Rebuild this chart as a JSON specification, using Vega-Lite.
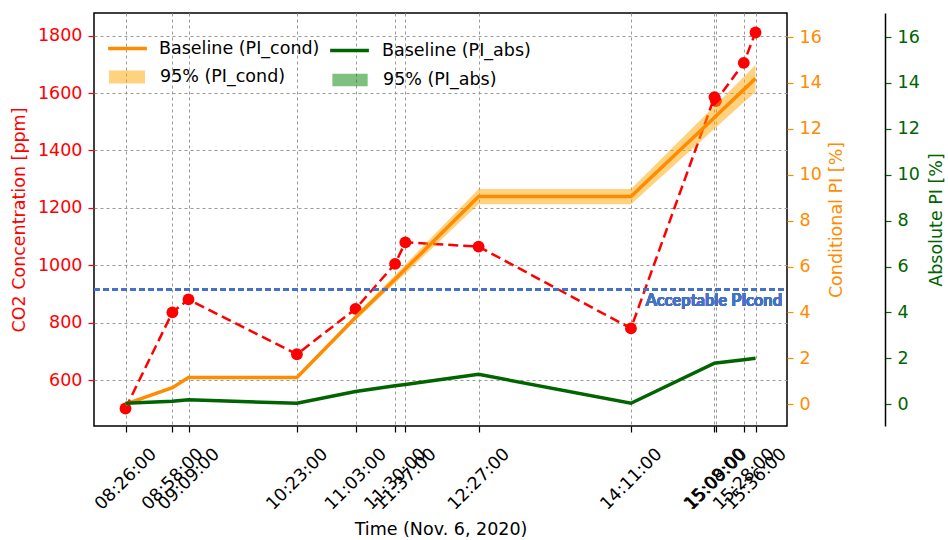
{
  "$schema": "https://vega.github.io/schema/vega-lite/v6.json",
  "width": 693,
  "height": 413,
  "autosize": {"type": "none"},
  "padding": {"left": 94, "top": 13, "right": 161, "bottom": 114},
  "config": {
    "font": "DejaVu Sans",
    "view": {"stroke": "#000000", "strokeWidth": 1.5},
    "axis": {
      "labelFont": "DejaVu Sans", "labelFontSize": 17.5,
      "titleFont": "DejaVu Sans", "titleFontSize": 17.5, "titleFontWeight": "normal",
      "tickSize": 6, "tickWidth": 1.2, "labelPadding": 6,
      "gridColor": "#9a9a9a", "gridDash": [3, 3], "gridWidth": 1, "gridOpacity": 1
    },
    "legend": {
      "labelFont": "DejaVu Sans", "labelFontSize": 17.5, "labelColor": "#000000",
      "padding": 0, "orient": "none", "labelLimit": 400
    }
  },
  "data": {
    "values": [
      {"t": "2020-11-06T08:26:00", "co2": 501, "cond": 0.0, "clo": -0.02, "chi": 0.02, "ab": 0.04, "alo": 0.0, "ahi": 0.08},
      {"t": "2020-11-06T08:58:00", "co2": 836, "cond": 0.72, "clo": 0.67, "chi": 0.77, "ab": 0.13, "alo": 0.09, "ahi": 0.17},
      {"t": "2020-11-06T09:09:00", "co2": 881, "cond": 1.16, "clo": 1.1, "chi": 1.22, "ab": 0.19, "alo": 0.15, "ahi": 0.23},
      {"t": "2020-11-06T10:23:00", "co2": 690, "cond": 1.16, "clo": 1.1, "chi": 1.22, "ab": 0.04, "alo": 0.0, "ahi": 0.08},
      {"t": "2020-11-06T11:03:00", "co2": 848, "cond": 3.78, "clo": 3.66, "chi": 3.9, "ab": 0.55, "alo": 0.51, "ahi": 0.59},
      {"t": "2020-11-06T11:30:00", "co2": 1005, "cond": 5.45, "clo": 5.27, "chi": 5.63, "ab": 0.8, "alo": 0.76, "ahi": 0.84},
      {"t": "2020-11-06T11:37:00", "co2": 1080, "cond": 5.89, "clo": 5.69, "chi": 6.09, "ab": 0.86, "alo": 0.82, "ahi": 0.9},
      {"t": "2020-11-06T12:27:00", "co2": 1065, "cond": 9.05, "clo": 8.72, "chi": 9.38, "ab": 1.3, "alo": 1.26, "ahi": 1.34},
      {"t": "2020-11-06T14:11:00", "co2": 780, "cond": 9.05, "clo": 8.72, "chi": 9.38, "ab": 0.04, "alo": 0.0, "ahi": 0.08},
      {"t": "2020-11-06T15:08:00", "co2": 1586, "cond": 12.5, "clo": 12.0, "chi": 13.0, "ab": 1.79, "alo": 1.75, "ahi": 1.83},
      {"t": "2020-11-06T15:09:00", "co2": 1572, "cond": 12.56, "clo": 12.06, "chi": 13.06, "ab": 1.8, "alo": 1.76, "ahi": 1.84},
      {"t": "2020-11-06T15:28:00", "co2": 1705, "cond": 13.71, "clo": 13.16, "chi": 14.26, "ab": 1.94, "alo": 1.9, "ahi": 1.98},
      {"t": "2020-11-06T15:36:00", "co2": 1811, "cond": 14.2, "clo": 13.6, "chi": 14.8, "ab": 2.0, "alo": 1.96, "ahi": 2.04}
    ]
  },
  "encoding": {
    "x": {
      "field": "t", "type": "temporal",
      "scale": {"domain": [
        {"year": 2020, "month": 11, "date": 6, "hours": 8, "minutes": 4, "seconds": 30},
        {"year": 2020, "month": 11, "date": 6, "hours": 15, "minutes": 57, "seconds": 30}
      ]},
      "axis": {
        "title": "Time (Nov. 6, 2020)", "titleColor": "#000000", "titlePadding": 8,
        "format": "%H:%M:%S", "labelAngle": 315, "labelAlign": "center", "labelBaseline": "middle",
        "labelPadding": 47, "labelOverlap": false, "labelColor": "#000000", "tickColor": "#000000",
        "labelFontSize": 17.5, "domain": false, "grid": true,
        "values": [
          {"year": 2020, "month": 11, "date": 6, "hours": 8, "minutes": 26},
          {"year": 2020, "month": 11, "date": 6, "hours": 8, "minutes": 58},
          {"year": 2020, "month": 11, "date": 6, "hours": 9, "minutes": 9},
          {"year": 2020, "month": 11, "date": 6, "hours": 10, "minutes": 23},
          {"year": 2020, "month": 11, "date": 6, "hours": 11, "minutes": 3},
          {"year": 2020, "month": 11, "date": 6, "hours": 11, "minutes": 30},
          {"year": 2020, "month": 11, "date": 6, "hours": 11, "minutes": 37},
          {"year": 2020, "month": 11, "date": 6, "hours": 12, "minutes": 27},
          {"year": 2020, "month": 11, "date": 6, "hours": 14, "minutes": 11},
          {"year": 2020, "month": 11, "date": 6, "hours": 15, "minutes": 8},
          {"year": 2020, "month": 11, "date": 6, "hours": 15, "minutes": 9},
          {"year": 2020, "month": 11, "date": 6, "hours": 15, "minutes": 28},
          {"year": 2020, "month": 11, "date": 6, "hours": 15, "minutes": 36}
        ]
      }
    }
  },
  "layer": [
    {
      "mark": {"type": "line", "color": "#ff0000", "strokeWidth": 2.5, "strokeDash": [10, 5]},
      "encoding": {
        "y": {
          "field": "co2", "type": "quantitative",
          "scale": {"domain": [440, 1879], "nice": false, "zero": false},
          "axis": {
            "orient": "left", "title": "CO2 Concentration [ppm]", "titleColor": "#ff0000", "format": "d",
            "labelColor": "#ff0000", "tickColor": "#ff0000", "labelFontSize": 17.5, "domain": false, "grid": true,
            "values": [600, 800, 1000, 1200, 1400, 1600, 1800], "titlePadding": 9
          }
        }
      }
    },
    {
      "mark": {"type": "point", "filled": true, "color": "#ff0000", "opacity": 1, "size": 140},
      "encoding": {
        "y": {"field": "co2", "type": "quantitative", "scale": {"domain": [440, 1879], "nice": false, "zero": false}, "axis": null}
      }
    },
    {
      "mark": {"type": "area", "fillOpacity": 0.5},
      "encoding": {
        "y": {
          "field": "clo", "type": "quantitative",
          "scale": {"domain": [-0.95, 17.05], "nice": false, "zero": false},
          "axis": {
            "orient": "right", "title": "Conditional PI [%]", "titleColor": "#ff8c00",
            "labelColor": "#ff8c00", "tickColor": "#ff8c00", "labelFontSize": 17.5, "domain": false, "grid": false,
            "values": [0, 2, 4, 6, 8, 10, 12, 14, 16], "titleAngle": 270, "titleBaseline": "top", "titlePadding": 6
          }
        },
        "y2": {"field": "chi"},
        "fill": {
          "datum": "95% (PI_cond)", "type": "nominal",
          "scale": {"range": ["#ffa500"]},
          "legend": {"title": null, "legendX": 15, "legendY": 46, "symbolType": "M-1,-0.36L1,-0.36L1,0.36L-1,0.36Z", "symbolSize": 1296, "symbolOpacity": 0.5, "symbolStrokeWidth": 0, "labelOffset": 15}
        }
      }
    },
    {
      "mark": {"type": "line", "strokeWidth": 3.5},
      "encoding": {
        "y": {"field": "cond", "type": "quantitative", "scale": {"domain": [-0.95, 17.05], "nice": false, "zero": false}, "axis": null},
        "stroke": {
          "datum": "Baseline (PI_cond)", "type": "nominal",
          "scale": {"range": ["#ff8c00"]},
          "legend": {"title": null, "legendX": 12, "legendY": 14, "symbolType": "stroke", "symbolSize": 1500, "symbolStrokeWidth": 3.5, "labelOffset": 10}
        }
      }
    },
    {
      "mark": {"type": "rule", "color": "#4472c4", "strokeWidth": 2, "strokeDash": [6, 3]},
      "encoding": {
        "x": {"datum": {"year": 2020, "month": 11, "date": 6, "hours": 8, "minutes": 4, "seconds": 30}, "type": "temporal", "axis": {"title": "Time (Nov. 6, 2020)"}},
        "x2": {"datum": {"year": 2020, "month": 11, "date": 6, "hours": 15, "minutes": 57, "seconds": 30}},
        "y": {"datum": 5, "type": "quantitative", "scale": {"domain": [-0.95, 17.05], "nice": false, "zero": false}, "axis": null}
      }
    },
    {
      "mark": {"type": "text", "text": "Acceptable PIcond", "color": "#4472c4", "font": "Lato", "fontWeight": "bold", "fontSize": 16.5, "align": "right", "baseline": "middle", "dx": -5, "dy": 12},
      "encoding": {
        "x": {"datum": {"year": 2020, "month": 11, "date": 6, "hours": 15, "minutes": 57, "seconds": 30}, "type": "temporal", "axis": {"title": "Time (Nov. 6, 2020)"}},
        "y": {"datum": 5, "type": "quantitative", "scale": {"domain": [-0.95, 17.05], "nice": false, "zero": false}, "axis": null}
      }
    },
    {
      "mark": {"type": "area", "fillOpacity": 0.5},
      "encoding": {
        "y": {
          "field": "alo", "type": "quantitative",
          "scale": {"domain": [-0.95, 17.05], "nice": false, "zero": false},
          "axis": {
            "orient": "right", "offset": 98, "title": "Absolute PI [%]", "titleColor": "#006400",
            "labelColor": "#006400", "tickColor": "#006400", "labelFontSize": 17.5, "domain": true, "domainColor": "#000000", "domainWidth": 1.5,
            "grid": false, "values": [0, 2, 4, 6, 8, 10, 12, 14, 16], "titleAngle": 270, "titleBaseline": "top", "titlePadding": 8
          }
        },
        "y2": {"field": "ahi"},
        "fill": {
          "datum": "95% (PI_abs)", "type": "nominal",
          "scale": {"range": ["#008000"]},
          "legend": {"title": null, "legendX": 238, "legendY": 49, "symbolType": "M-1,-0.36L1,-0.36L1,0.36L-1,0.36Z", "symbolSize": 1246, "symbolOpacity": 0.5, "symbolStrokeWidth": 0, "labelOffset": 15}
        }
      }
    },
    {
      "mark": {"type": "line", "strokeWidth": 3.5},
      "encoding": {
        "y": {"field": "ab", "type": "quantitative", "scale": {"domain": [-0.95, 17.05], "nice": false, "zero": false}, "axis": null},
        "stroke": {
          "datum": "Baseline (PI_abs)", "type": "nominal",
          "scale": {"range": ["#006400"]},
          "legend": {"title": null, "legendX": 234, "legendY": 16, "symbolType": "stroke", "symbolSize": 1500, "symbolStrokeWidth": 3.5, "labelOffset": 11}
        }
      }
    }
  ],
  "resolve": {"scale": {"y": "independent", "fill": "independent", "stroke": "independent"}}
}
